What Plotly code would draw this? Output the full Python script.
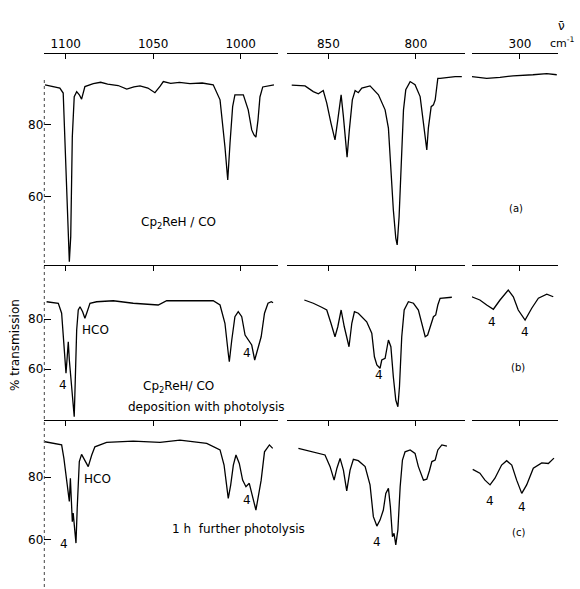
import plotly.graph_objects as go

W, H = 580, 589

# ---------------- data (wavenumber cm-1, % transmission) ----------------
a_left_wn = [1111.8, 1103.3, 1101.4, 1100.4, 1098.5, 1097.9, 1097.1, 1096.2, 1095.1, 1093.7, 1092.2, 1090.9,
             1089.0, 1084.2, 1080.0, 1076.0, 1070.0, 1065.1, 1061.0, 1057.5, 1053.0, 1049.0, 1046.0, 1044.2,
             1040.0, 1035.0, 1029.0, 1022.0, 1015.7, 1011.8, 1009.0, 1007.4, 1006.1, 1004.6, 1003.3, 998.5,
             995.7, 993.7, 992.4, 991.3, 990.1, 989.0, 987.4, 982.3, 981.0]
a_left_T = [91.2, 90.3, 88.9, 75.8, 47.0, 41.8, 48.8, 76.7, 87.9, 89.3, 88.4, 87.2,
            90.7, 91.5, 91.9, 91.4, 91.0, 90.0, 90.6, 90.9, 90.3, 89.0, 90.8, 92.1,
            91.6, 91.9, 91.5, 91.7, 91.2, 87.0, 73.9, 64.6, 74.9, 85.1, 88.4, 88.4,
            84.2, 78.6, 77.2, 76.6, 81.4, 87.8, 90.6, 91.2, 91.2]

a_mid_wn = [870.9, 863.3, 858.6, 855.7, 852.9, 850.9, 848.5, 846.2, 844.6, 842.7, 841.4, 839.3, 838.0, 836.3,
            834.7, 832.9, 830.9, 826.2, 821.4, 817.6, 815.7, 814.3, 812.9, 811.5, 810.7, 809.6, 808.1, 807.1,
            805.8, 803.3, 800.5, 797.6, 795.7, 793.8, 792.9, 791.3, 790.0, 789.0, 787.5, 786.2, 777.6, 773.8]
a_mid_T = [91.1, 90.9, 89.3, 88.7, 89.6, 86.1, 80.5, 75.8, 81.4, 88.4, 82.3, 71.0, 78.6, 87.0,
           89.6, 89.0, 90.3, 90.9, 88.4, 84.2, 79.1, 67.4, 56.3, 48.4, 46.5, 54.4, 72.1, 84.2,
           89.8, 92.1, 91.2, 87.9, 80.5, 73.0, 79.1, 85.1, 85.6, 87.0, 93.0, 93.0, 93.5, 93.5]

a_right_wn = [327.6, 319.0, 311.4, 304.0, 292.6, 284.7, 279.0]
a_right_T = [93.5, 93.0, 93.3, 93.7, 94.0, 94.3, 94.0]

b_left_wn = [1110.9, 1104.2, 1102.3, 1101.0, 1099.8, 1099.1, 1098.5, 1097.9, 1097.0, 1095.7, 1095.1, 1094.5,
             1093.7, 1092.8, 1091.8, 1090.3, 1089.0, 1087.7, 1086.1, 1082.3, 1072.8, 1061.4, 1047.1, 1042.3,
             1029.0, 1015.7, 1011.8, 1009.0, 1007.1, 1006.5, 1005.1, 1003.3, 1001.4, 999.4, 997.5, 995.7,
             993.7, 992.0, 988.3, 986.4, 984.4, 982.5, 981.5]
b_left_T = [86.9, 86.3, 82.3, 68.9, 58.3, 64.9, 70.9, 63.6, 55.6, 44.9, 40.9, 55.6,
            75.6, 83.6, 84.9, 82.9, 80.3, 82.9, 86.3, 86.9, 87.3, 86.3, 85.6, 87.3,
            87.3, 87.3, 85.6, 78.3, 66.3, 62.9, 71.6, 80.9, 82.9, 80.9, 73.6, 71.6,
            69.6, 63.6, 72.9, 82.3, 86.3, 86.9, 86.5]

b_mid_wn = [863.7, 858.6, 853.8, 850.9, 848.5, 846.2, 844.6, 842.7, 840.9, 838.2, 836.6, 835.1, 832.9, 828.1,
            825.2, 823.7, 822.3, 820.5, 819.5, 817.6, 815.7, 814.3, 812.9, 811.5, 810.3, 809.4, 808.1, 806.7,
            804.3, 801.4, 798.6, 796.6, 794.7, 793.3, 791.3, 790.0, 788.7, 787.5, 786.2, 779.5]
b_mid_T = [87.6, 86.3, 84.7, 83.6, 78.3, 72.9, 76.9, 83.6, 76.9, 68.9, 78.3, 82.9, 82.3, 78.9,
           74.3, 64.9, 61.6, 60.3, 63.6, 64.3, 71.6, 68.9, 56.9, 47.6, 44.9, 52.9, 72.9, 83.6,
           86.9, 86.3, 83.6, 78.3, 72.9, 73.6, 78.3, 80.9, 81.6, 85.6, 88.3, 88.7]

b_right_wn = [327.6, 322.9, 319.0, 315.2, 311.4, 306.7, 303.8, 301.0, 297.1, 293.3, 289.5, 284.7, 281.0]
b_right_T = [88.9, 87.6, 85.6, 83.9, 87.6, 91.6, 88.9, 83.6, 79.6, 84.3, 88.3, 89.9, 88.9]

c_left_wn = [1111.8, 1106.1, 1102.3, 1101.0, 1099.4, 1097.9, 1097.3, 1096.6, 1096.2, 1095.7, 1094.7, 1094.1,
             1093.4, 1092.2, 1090.9, 1089.0, 1087.1, 1085.1, 1083.3, 1076.6, 1061.4, 1046.1, 1034.7, 1019.4,
             1011.8, 1009.5, 1008.0, 1007.1, 1005.7, 1004.2, 1002.7, 1000.8, 998.9, 997.0, 995.1, 992.8,
             991.3, 988.3, 986.4, 983.6, 981.7]
c_left_T = [91.2, 90.7, 90.2, 85.9, 78.5, 72.2, 79.6, 72.2, 65.8, 68.5, 61.6, 59.0,
            70.1, 84.9, 87.2, 85.4, 83.3, 87.0, 89.6, 91.0, 91.4, 91.0, 91.7, 90.7,
            88.6, 83.8, 77.5, 73.2, 77.5, 83.8, 87.0, 84.3, 79.0, 76.9, 78.0, 72.2,
            69.5, 79.0, 88.0, 90.2, 89.1]

c_mid_wn = [867.1, 861.4, 855.7, 851.9, 849.0, 846.7, 845.1, 843.3, 841.4, 839.5, 837.6, 835.7, 832.9, 829.0,
            826.2, 824.3, 822.3, 820.5, 818.6, 817.2, 815.7, 814.6, 813.4, 812.5, 811.5, 810.3, 809.0, 807.7,
            806.2, 803.3, 800.5, 798.6, 795.7, 793.8, 792.3, 790.9, 789.0, 787.5, 785.2, 782.3]
c_mid_T = [89.1, 88.4, 87.5, 87.0, 83.3, 79.0, 82.8, 85.9, 82.2, 75.6, 82.2, 85.6, 85.2, 83.3,
           77.5, 67.4, 64.4, 66.3, 69.5, 74.8, 76.4, 70.6, 61.0, 62.1, 58.4, 63.2, 76.9, 85.4,
           88.0, 88.6, 87.5, 83.3, 79.0, 79.3, 82.0, 84.9, 85.4, 88.6, 90.2, 89.8]

c_right_wn = [327.0, 322.9, 320.0, 317.1, 314.3, 310.5, 307.6, 304.7, 301.9, 299.0, 296.2, 292.4, 287.6, 283.8, 280.6]
c_right_T = [82.4, 81.2, 79.0, 77.5, 79.6, 83.8, 85.2, 83.8, 79.0, 74.8, 77.5, 82.8, 84.5, 84.3, 86.0]

seg_ticks = [[1100, 1050, 1000], [850, 800], [300]]
seg_ranges = [[1112.2, 978.8], [873.6, 772.1], [327.4, 278.3]]
y_ticks = [60, 80]

series = [
    [(a_left_wn, a_left_T), (a_mid_wn, a_mid_T), (a_right_wn, a_right_T)],
    [(b_left_wn, b_left_T), (b_mid_wn, b_mid_T), (b_right_wn, b_right_T)],
    [(c_left_wn, c_left_T), (c_mid_wn, c_mid_T), (c_right_wn, c_right_T)],
]

# ---------------- layout geometry (pixels) ----------------
seg_px = [(44.3, 277.8), (287.0, 464.8), (472.0, 558.0)]
panel_px = [(54, 266), (266, 421), (421, 589)]
panel_yrange = [[40.6, 99.8], [39.2, 101.2], [44.4, 97.8]]


def px(x):
    return x / W


def py(y):
    return 1 - y / H


FONT = "DejaVu Sans"
fig = go.Figure()
layout = dict(width=W, height=H, margin=dict(l=0, r=0, t=0, b=0), autosize=False,
              paper_bgcolor="white", plot_bgcolor="white", showlegend=False,
              font=dict(family=FONT, color="black", size=12))

k = 0
for p in range(3):
    for s in range(3):
        k += 1
        sfx = "" if k == 1 else str(k)
        wn, T = series[p][s]
        fig.add_trace(go.Scatter(x=wn, y=T, mode="lines", xaxis="x" + sfx, yaxis="y" + sfx,
                                 line=dict(color="black", width=1.3), hoverinfo="skip"))
        layout["xaxis" + sfx] = dict(
            domain=[px(seg_px[s][0]), px(seg_px[s][1])], range=seg_ranges[s],
            anchor="y" + sfx, side="top", showline=True, linecolor="black", linewidth=1.3,
            ticks="inside", ticklen=5, tickwidth=1, tickcolor="black",
            tickvals=seg_ticks[s], showticklabels=(p == 0), showgrid=False, zeroline=False,
            tickfont=dict(size=12, family=FONT))
        layout["yaxis" + sfx] = dict(
            domain=[py(panel_px[p][1]), py(panel_px[p][0])], range=panel_yrange[p],
            anchor="x" + sfx, showline=False, showgrid=False, zeroline=False,
            visible=(s == 0), tickvals=y_ticks, ticks="inside", ticklen=7, tickwidth=1,
            tickcolor="black", tickfont=dict(size=12, family=FONT))

fig.update_layout(**layout)

# dashed left axis
fig.add_shape(type="line", xref="paper", yref="paper", x0=px(44.3), x1=px(44.3), y0=py(80), y1=0,
              line=dict(color="#444", width=1, dash="dot"))

ann = [
    ("ν̄", 561, 26, 12),
    ("cm<sup>-1</sup>", 562, 42, 11),
    ("Cp<sub>2</sub>ReH / CO", 178, 223, 12),
    ("(a)", 516, 208, 10),
    ("4", 63, 385, 12),
    ("HCO", 95, 330, 12),
    ("4", 247, 353, 12),
    ("Cp<sub>2</sub>ReH/ CO", 178, 387, 12),
    ("deposition with photolysis", 206, 407, 12),
    ("4", 379, 375, 12),
    ("4", 492, 322, 12),
    ("4", 525, 332, 12),
    ("(b)", 518, 367, 10),
    ("4", 64, 544, 12),
    ("HCO", 97, 479, 12),
    ("4", 247, 500, 12),
    ("1 h  further photolysis", 238, 529, 12),
    ("4", 377, 542, 12),
    ("4", 490, 501, 12),
    ("4", 522, 507, 12),
    ("(c)", 518, 532, 10),
]
for text, x, y, size in ann:
    fig.add_annotation(text=text, x=px(x), y=py(y), xref="paper", yref="paper", showarrow=False,
                       xanchor="center", yanchor="middle", font=dict(size=size, family=FONT, color="black"))

fig.add_annotation(text="% transmission", x=px(15), y=py(345), xref="paper", yref="paper",
                   showarrow=False, textangle=-90, xanchor="center", yanchor="middle",
                   font=dict(size=12, family=FONT, color="black"))

fig.write_html("out.html")
